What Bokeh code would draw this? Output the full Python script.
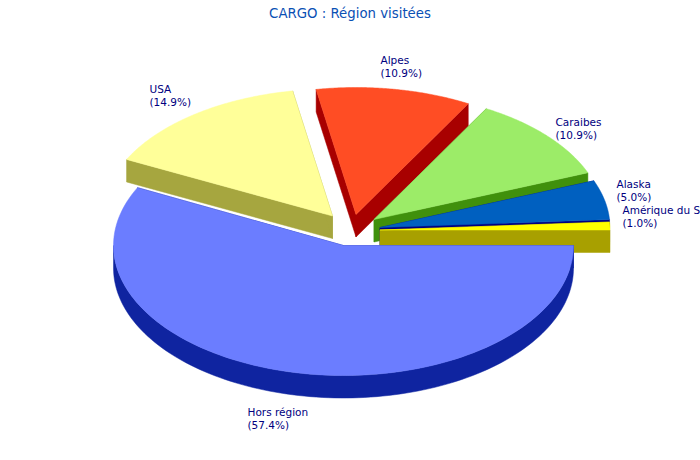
import numpy as np
from bokeh.plotting import figure
from bokeh.models import Range1d, ColumnDataSource
from bokeh.core.properties import value
from bokeh.embed import file_html
from bokeh.resources import INLINE

title = "CARGO : Région visitées"
names = ["Hors région", "USA", "Alpes", "Caraibes", "Alaska", "Amérique du Sud"]
values = [57.4, 14.9, 10.9, 10.9, 5.0, 1.0]
pct_labels = ["(57.4%)", "(14.9%)", "(10.9%)", "(10.9%)", "(5.0%)", "(1.0%)"]

top_colors = ["#6b7dff", "#ffff99", "#ff4d24", "#9cec68", "#0060c0", "#ffff00"]
side_colors = ["#0f24a0", "#a6a63f", "#a80000", "#40900c", "#000080", "#a8a000"]
explode_dx = [0, -11, 12.5, 30.5, 36.5, 36.5]
explode_dy = [0, -29.5, -31, -26, -18, -15.5]
radius_y = [130, 127, 127, 127, 127, 127]
label_x = [247, 149, 380, 555, 616, 622]
label_y = [411, 88, 59, 121, 183, 209]

cx, cy, rx, depth = 343.0, 245.0, 230.0, 22.5
W, H = 700, 460

p = figure(width=W, height=H, x_range=Range1d(0, W), y_range=Range1d(H, 0),
           output_backend="svg", toolbar_location=None, min_border=0,
           outline_line_color=None, background_fill_color="white", border_fill_color="white")
p.axis.visible = False
p.grid.visible = False

total = sum(values)
bounds = np.concatenate([[0], np.cumsum(values)]) / total * 2 * np.pi


def arc(c_x, c_y, ry, a0, a1, n=120):
    t = np.linspace(a0, a1, n)
    return c_x + rx * np.cos(t), c_y + ry * np.sin(t)


def draw(i):
    c_x, c_y = cx + explode_dx[i], cy + explode_dy[i]
    ry = radius_y[i]
    a0, a1 = bounds[i], bounds[i + 1]
    ax, ay = arc(c_x, c_y, ry, a0, a1)
    walls_x, walls_y = [], []
    for a in (a0, a1):
        ex, ey = c_x + rx * np.cos(a), c_y + ry * np.sin(a)
        walls_x.append([c_x, ex, ex, c_x])
        walls_y.append([c_y, ey, ey + depth, c_y + depth])
    f0, f1 = max(a0, 0), min(a1, np.pi)
    if f1 > f0:
        fx, fy = arc(c_x, c_y, ry, f0, f1)
        walls_x.append(np.concatenate([fx, fx[::-1]]))
        walls_y.append(np.concatenate([fy, fy[::-1] + depth]))
    p.patches(walls_x, walls_y, fill_color=side_colors[i], line_color=side_colors[i], line_width=0.5)
    p.patch(np.concatenate([[c_x], ax]), np.concatenate([[c_y], ay]),
            fill_color=top_colors[i], line_color=top_colors[i], line_width=0.5)


for i in [1, 2, 3, 4, 5, 0]:
    draw(i)

src = ColumnDataSource(dict(x=label_x, y1=label_y, y2=[y + 13 for y in label_y], n=names, v=pct_labels))
for col, field in (("y1", "n"), ("y2", "v")):
    p.text(x="x", y=col, text=field, source=src, text_font=value("DejaVu Sans"),
           text_font_size="10.5px", text_color="#000080", text_align="left", text_baseline="middle")

p.text(x=[349.5], y=[13], text=[title], text_font=value("DejaVu Sans"), text_font_size="13.3px",
       text_color="#0a50b4", text_align="center", text_baseline="middle")

open("out.html", "w").write(file_html(p, INLINE))
